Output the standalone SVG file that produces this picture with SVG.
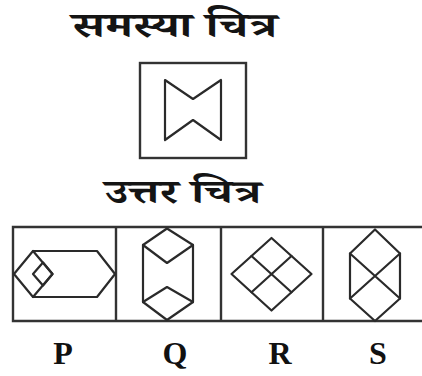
<svg xmlns="http://www.w3.org/2000/svg" width="422" height="376" viewBox="0 0 422 376">
<style>
.ln{fill:none;stroke:#2a2a2a;stroke-width:2.2;stroke-linejoin:round;stroke-linecap:round}
.fr{fill:none;stroke:#333;stroke-width:2.4}
.hd{font-family:"Noto Serif Devanagari","Noto Sans Devanagari","Lohit Devanagari","Noto Sans",serif;font-weight:bold;fill:#141414}
.lb{font-family:"Liberation Serif",serif;font-weight:bold;font-size:32px;fill:#111;text-anchor:middle}
</style>
<rect width="422" height="376" fill="#fff"/>
<g id="title-question">
<text class="hd" x="72" y="37" font-size="35" textLength="205" lengthAdjust="spacingAndGlyphs">समस्या चित्र</text>
</g>
<g id="question-figure">
<rect class="fr" x="140" y="63" width="106" height="95"/>
<polygon class="ln" points="165,80 193,99 221,80 221,140 193,120 165,140"/>
</g>
<g id="title-answer">
<text class="hd" x="105" y="203" font-size="33" textLength="156" lengthAdjust="spacingAndGlyphs">उत्तर चित्र</text>
</g>
<g id="answer-strip">
<path class="fr" d="M430,227 H13 V321 H430 M116,227 V321 M221,227 V321 M323,227 V321"/>
</g>
<g id="option-P">
<polygon class="ln" points="14,274 33,251 97,251 115,274 97,297 33,297"/>
<path class="ln" d="M33,251 L52.5,274 L33,297"/>
<polygon class="ln" points="33,274 43,262.5 52.5,274 43,285.5"/>
</g>
<g id="option-Q">
<polygon class="ln" points="167,228.5 193,245 193,302 167,320 143,302 143,245"/>
<path class="ln" d="M143,245 L167,263 L193,245 M143,302 L167,287 L193,302"/>
</g>
<g id="option-R">
<polygon class="ln" points="231.5,274 271.5,238 311.5,274 271.5,310.5"/>
<path class="ln" d="M251.5,256 L291.5,292.3 M291.5,256 L251.5,292.3"/>
</g>
<g id="option-S">
<polygon class="ln" points="375,229.5 400,253.5 400,298.5 375,321 350,298.5 350,253.5"/>
<path class="ln" d="M350,253.5 L400,298.5 M400,253.5 L350,298.5"/>
</g>
<g id="labels">
<text class="lb" x="63" y="364">P</text>
<text class="lb" x="175" y="364">Q</text>
<text class="lb" x="280" y="364">R</text>
<text class="lb" x="378" y="364">S</text>
</g>
</svg>
